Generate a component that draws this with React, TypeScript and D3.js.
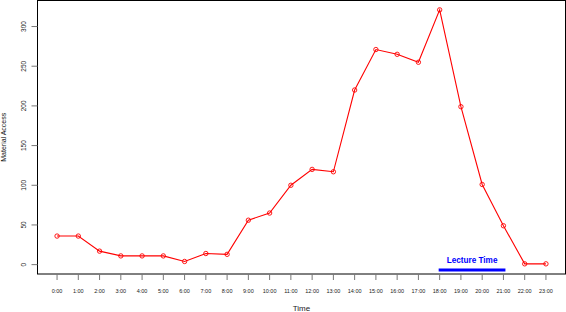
import React from "react";
import * as d3 from "d3";

const hours = ["0:00","1:00","2:00","3:00","4:00","5:00","6:00","7:00","8:00","9:00","10:00","11:00","12:00","13:00","14:00","15:00","16:00","17:00","18:00","19:00","20:00","21:00","22:00","23:00"];
const access = [36, 36, 17, 11, 11, 11, 4, 14, 13, 56, 65, 100, 120, 117, 220, 271, 265, 255, 321, 199, 101, 49, 1, 1];
const yTicks = [0, 50, 100, 150, 200, 250, 300];
const lectureStart = 18;
const lectureEnd = 21;

export default function App() {
  const W = 566, H = 312;
  const left = 37.5, right = 565.5, top = 0.5, bottom = 274;
  const x = d3.scaleLinear().domain([-0.92, 23.92]).range([left, right]);
  const y = d3.scaleLinear().domain([-11.8, 332.8]).range([bottom, top]);
  const line = d3.line<number>().x((_, i) => x(i)).y(d => y(d));
  const font = "Liberation Sans, Arial, Helvetica, sans-serif";
  return (
    <svg width={W} height={H} style={{ position: "absolute", left: 0, top: 0 }} fontFamily={font}>
      <rect x={0} y={0} width={W} height={H} fill="white" />
      <rect x={left} y={top} width={right - left} height={bottom - top} fill="none" stroke="black" strokeWidth={1} />
      {yTicks.map(t => (
        <g key={t}>
          <line x1={left - 6} x2={left} y1={y(t)} y2={y(t)} stroke="#777" strokeWidth={1} />
          <text transform={`translate(${left - 12},${y(t)}) rotate(-90)`} textAnchor="middle" fontSize={6.5} fill="#222">{t}</text>
        </g>
      ))}
      {hours.map((h, i) => (
        <g key={h}>
          <line x1={x(i)} x2={x(i)} y1={bottom} y2={bottom + 6} stroke="#777" strokeWidth={1} />
          <text x={x(i)} y={293} textAnchor="middle" fontSize={5.5} fill="#222">{h}</text>
        </g>
      ))}
      <text x={(left + right) / 2} y={311} textAnchor="middle" fontSize={8} fill="#222">Time</text>
      <text transform={`translate(6,${(top + bottom) / 2}) rotate(-90)`} textAnchor="middle" fontSize={7} fill="#111">Material Access</text>
      <path d={line(access) || ""} fill="none" stroke="#ff0000" strokeWidth={1.1} />
      {access.map((v, i) => (
        <circle key={i} cx={x(i)} cy={y(v)} r={2.2} fill="none" stroke="#ff0000" strokeWidth={0.9} />
      ))}
      <line x1={x(lectureStart) - 1} x2={x(lectureEnd) + 2} y1={270} y2={270} stroke="#0000ff" strokeWidth={3} />
      <text x={(x(lectureStart) + x(lectureEnd)) / 2 + 0.5} y={263} textAnchor="middle" fontSize={8.2} fontWeight="bold" fill="#0000ff">Lecture Time</text>
    </svg>
  );
}
